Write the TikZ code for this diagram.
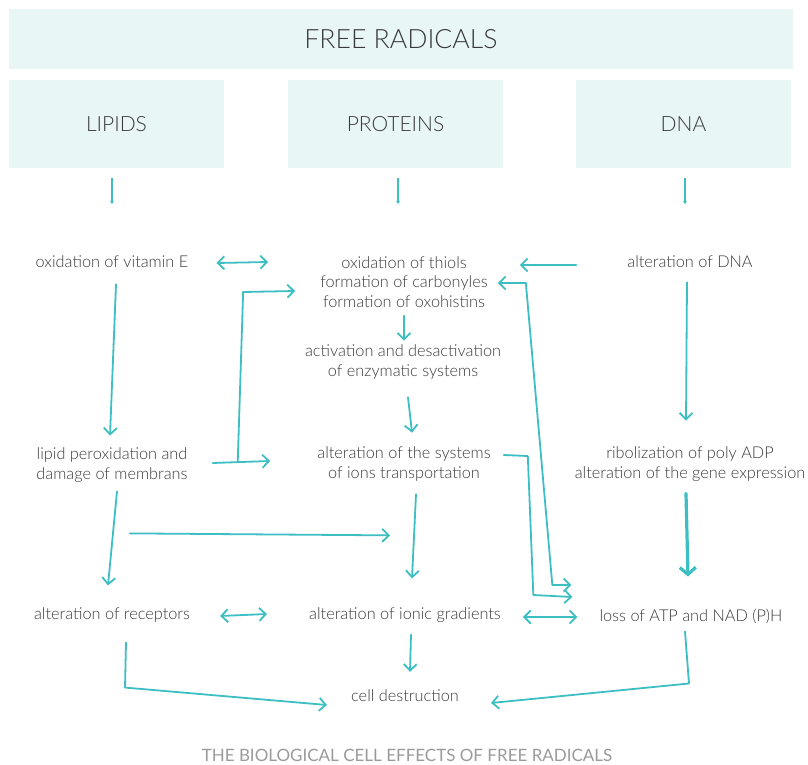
\documentclass[tikz,border=0pt]{standalone}
\usepackage{fontspec}
\setmainfont{Lato Light}
\newfontfamily\capfont{Lato}
\usetikzlibrary{arrows.meta,calc}
\definecolor{teal1}{HTML}{3CBEC3}
\definecolor{boxfill}{HTML}{E9F6F6}
\definecolor{txt}{HTML}{3A3A3A}
\definecolor{captxt}{HTML}{9A9A9A}
\begin{document}
\begin{tikzpicture}
		[x=1pt,y=-1pt,
		 >={Straight Barb[length=6.5pt,width=13pt]},
		 hd/.style={fill=boxfill,text=txt,inner sep=0,minimum height=88,minimum width=215,font=\fontsize{21}{24}\selectfont},
		 txtnode/.style={text=txt,inner sep=0,align=center,font=\fontsize{16.3}{19.5}\selectfont},
		 arr/.style={draw=teal1,line width=1.8pt,line cap=round,line join=round},
		 small/.style={draw=teal1,line width=1.6pt,-{Latex[length=3pt,width=4pt]}}]
		\useasboundingbox (0,0) rectangle (808,765);

		\node[hd,minimum width=784,minimum height=60,font=\fontsize{26.6}{30}\selectfont] (n0) at (401,39) {FREE RADICALS};
		\node[hd] (n1) at (116.5,124) {LIPIDS};
		\node[hd] (n2) at (395.5,124) {PROTEINS};
		\node[hd] (n3) at (683.5,124) {DNA};

		\node[txtnode] (n4) at (112,262) {oxidation of vitamin E};
		\node[txtnode] (n5) at (404,282) {oxidation of thiols\\formation of carbonyles\\formation of oxohistins};
		\node[txtnode] (n6) at (690,262) {alteration of DNA};
		\node[txtnode] (n7) at (403,362) {activation and desactivation\\of enzymatic systems};
		\node[txtnode] (n8) at (112,465) {lipid peroxidation and\\damage of membrans};
		\node[txtnode] (n9) at (404,464) {alteration of the systems\\of ions transportation};
		\node[txtnode] (n10) at (690,464) {ribolization of poly ADP\\alteration of the gene expression};
		\node[txtnode] (n11) at (112,615) {alteration of receptors};
		\node[txtnode] (n12) at (405,615) {alteration of ionic gradients};
		\node[txtnode] (n13) at (691,616) {loss of ATP and NAD (P)H};
		\node[txtnode] (n14) at (405,696) {cell destruction};
		\node[text=captxt,font=\capfont\fontsize{17}{20}\selectfont] (n15) at (407,755) {THE BIOLOGICAL CELL EFFECTS OF FREE RADICALS};

		\draw[small] ($(n1.south)+(-4.5,10)$) -- ($(n1.south)+(-4.5,36)$);
		\draw[small] ($(n2.south)+(2.5,10)$) -- ($(n2.south)+(2.5,36)$);
		\draw[small] ($(n3.south)+(1.5,10)$) -- ($(n3.south)+(1.5,36)$);

		\draw[arr,<->] ($(n4.east)+(28,1)$) -- ($(n5.west)+(-52,-20)$);
		\draw[arr,->] ($(n6.west)+(-51,3)$) -- ($(n5.east)+(32,-17)$);
		\draw[arr,->] ($(n8.east)+(25,-2)$) -- ($(n9.west)+(-47,-3)$);
		\draw[arr,->] ($(n8.east)+(50,-3)$) -- ($(n5.west)+(-77,10)$) -- ($(n5.west)+(-25,9)$);
		\draw[arr,->] ($(n4.south)+(4,16)$) -- ($(n8.north)+(-2,-12)$);
		\draw[arr,->] ($(n5.south)+(0,8)$) -- ($(n7.north)+(1,-4)$);
		\draw[arr,->] ($(n7.south)+(5,18)$) -- ($(n9.north)+(8,-14)$);
		\draw[arr,->] ($(n6.south)+(-3,14)$) -- ($(n10.north)+(-4,-26)$);
		\draw[arr,->] ($(n8.south)+(5,9)$) -- ($(n11.north)+(-4,-22)$);
		\draw[arr,->] ($(n8.south)+(18,51)$) -- ($(n12.north)+(-15,-72)$);
		\draw[arr,->] ($(n9.south)+(12,13)$) -- ($(n12.north)+(7,-29)$);
		\draw[arr,<->] ($(n5.east)+(10,1)$) -- ($(n5.east)+(38,1)$) -- ($(n13.west)+(-47,-31)$) -- ($(n13.west)+(-28,-31)$);
		\draw[arr,->] ($(n9.east)+(13,-9)$) -- ($(n9.east)+(37,-8)$) -- ($(n13.west)+(-66,-21)$) -- ($(n13.west)+(-27,-19)$);
		\draw[arr,<->] ($(n11.east)+(30,1)$) -- ($(n12.west)+(-42,-1)$);
		\draw[arr,<->] ($(n12.east)+(22,2)$) -- ($(n13.west)+(-22,1)$);
		\draw[arr,-{Straight Barb[length=7pt,width=16pt]},line width=3.2pt] ($(n10.south)+(-4,12)$) -- ($(n13.north)+(-3,-32)$);
		\draw[arr,->] ($(n12.south)+(6,12)$) -- ($(n14.north)+(5,-18)$);
		\draw[arr,->] ($(n11.south)+(14,20)$) -- ($(n11.south)+(13,65)$) -- ($(n14.west)+(-24,9)$);
		\draw[arr,->] ($(n13.south)+(-6,8)$) -- ($(n13.south)+(-2,60)$) -- ($(n14.east)+(32,7)$);

	\end{tikzpicture}
\end{document}
